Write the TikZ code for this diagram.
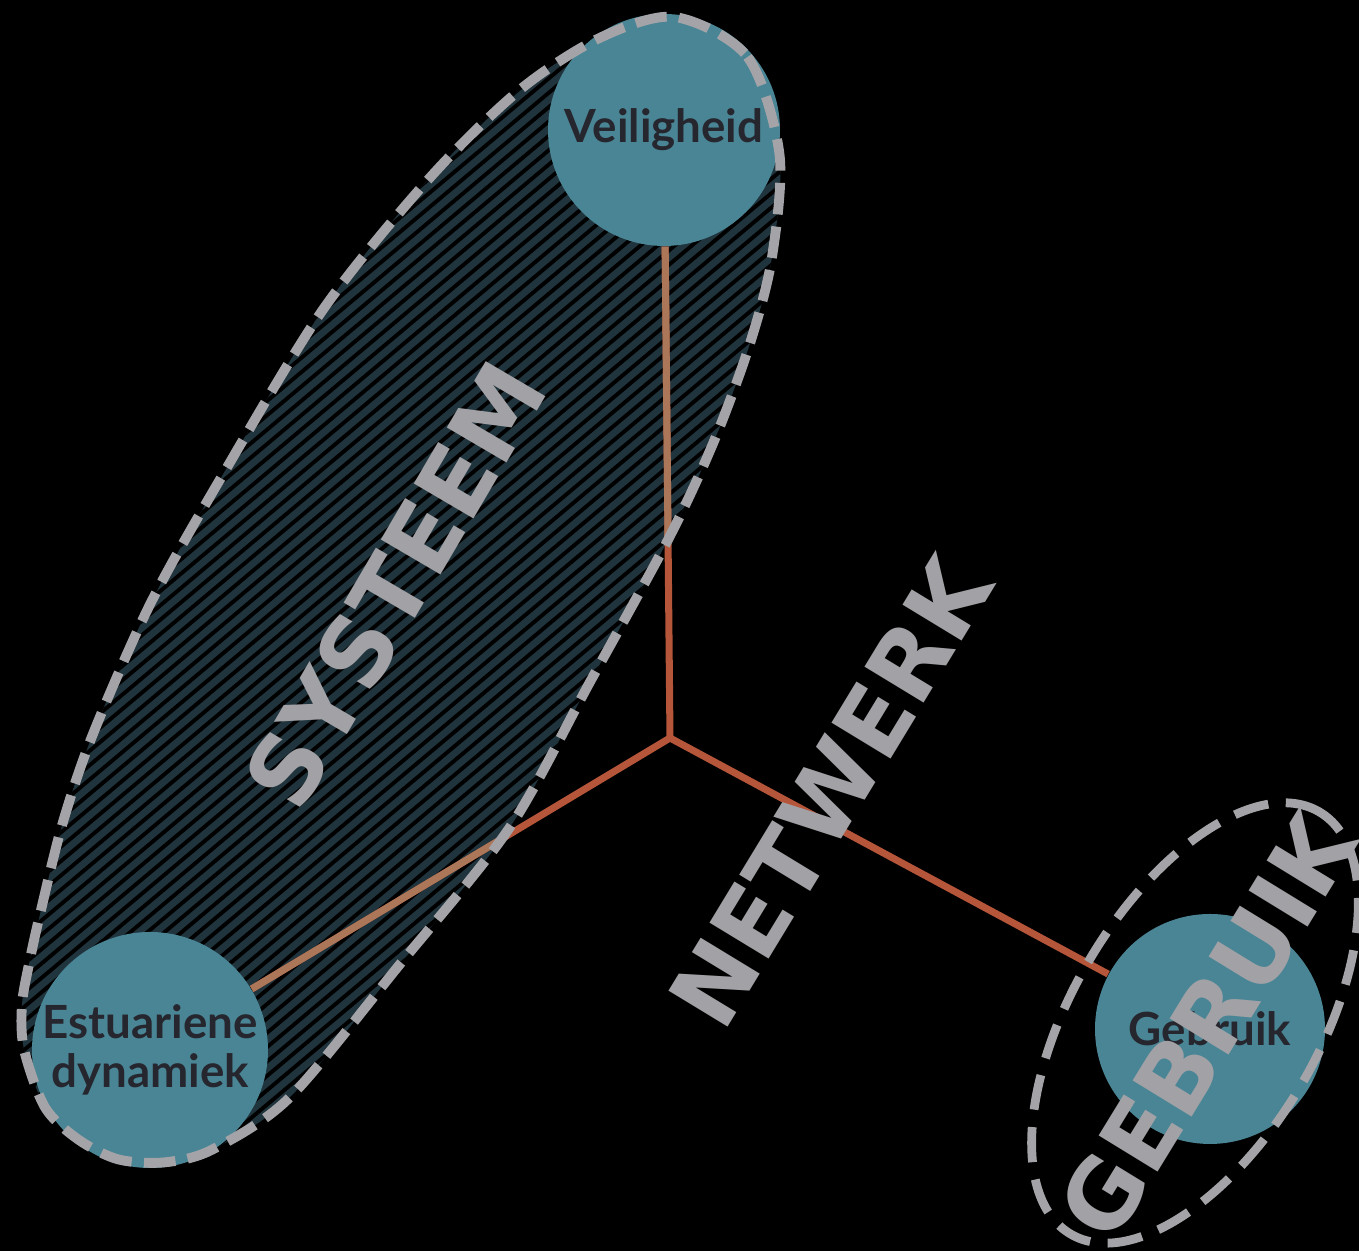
\documentclass[tikz,border=0pt]{standalone}
\usepackage{fontspec}
\setmainfont{Lato}
\newfontfamily\wordfont{DejaVu Sans}
\usepackage{tikz}

\definecolor{bubblefill}{HTML}{4A8595}
\definecolor{bubbletext}{HTML}{26262E}
\definecolor{zonefill}{HTML}{20343D}
\definecolor{ringgrey}{HTML}{A4A4A8}
\definecolor{linkred}{HTML}{B5553A}
\definecolor{linktan}{HTML}{AC7658}
\definecolor{wordgrey}{HTML}{A2A2A6}

\begin{document}
\begin{tikzpicture}[
    bubble/.style={circle,fill=bubblefill,text=bubbletext,minimum size=2.32cm,inner sep=0pt,
      font=\fontsize{13}{14}\selectfont\bfseries,align=center},
    link/.style={linkred,line width=2pt},
    ring/.style={ringgrey,line width=2.8pt,dash pattern=on 9pt off 3.5pt},
    bigword/.style={text=wordgrey,inner sep=0pt,font=\wordfont\fontsize{27}{30}\selectfont\bfseries}]
          \fill[black] (0,0) rectangle (13.59,12.51);
          \useasboundingbox (0,0) rectangle (13.59,12.51);
          % outline of the system zone, traced in pixels
          \begin{scope}[yshift=12.51cm,x=0.01cm,y=-0.01cm]
            \path[save path=\zonepath] plot[smooth cycle] coordinates {
              (675,17) (748,57) (780,155) (772,260) (750,345) (715,440) (670,537)
              (590,683) (510,828) (400,965) (290,1098) (213,1150) (165,1163)
              (118,1160) (78,1140) (45,1108) (24,1050) (22,1005) (30,960) (40,915)
              (62,826) (92,737) (150,605) (220,480) (323,310) (430,178) (520,90) (600,38)};
          \end{scope}
          % hatched fill
          \begin{scope}
            \clip[use path=\zonepath];
            \fill[zonefill] (0,0) rectangle (13.59,12.51);
            \begin{scope}[shift={(4.0,6.6)},rotate=40]
              \foreach \k in {-70,...,70}{
                \draw[black,line width=1.1pt] (-9,0.11*\k) -- (9,0.11*\k);}
            \end{scope}
          \end{scope}
          \node[bubble] (veil) at (6.64,11.21) {Veiligheid};
          \node[bubble,minimum size=2.36cm] (estu) at (1.50,2.01) {Estuariene\\dynamiek};
          \node[bubble,minimum size=2.30cm] (gebr) at (12.10,2.22) {Gebruik};
          \coordinate (hub) at (6.70,5.13);
          \draw[link] (hub) -- (veil);
          \draw[link] (hub) -- (estu);
          \draw[link] (hub) -- (gebr);
          \begin{scope}
            \clip[use path=\zonepath];
            \draw[link,linktan] (hub) -- (veil);
            \draw[link,linktan] (hub) -- (estu);
          \end{scope}
          % dashed rings
          \draw[ring,use path=\zonepath];
          \draw[ring,dash pattern=on 10pt off 5pt,line width=2.5pt,shift={(11.95,2.28)},rotate=59.5]
            (0,0) ellipse (2.45 and 1.23);
          \node[bigword,rotate=59.6] (systeem) at (3.95,6.66) {SYSTEEM};
          \node[bigword,rotate=58.7] (netwerk) at (8.30,4.59) {NETWERK};
          \node[bigword,rotate=58.5] (gebruik) at (12.07,2.25) {GEBRUIK};
        \end{tikzpicture}
\end{document}
